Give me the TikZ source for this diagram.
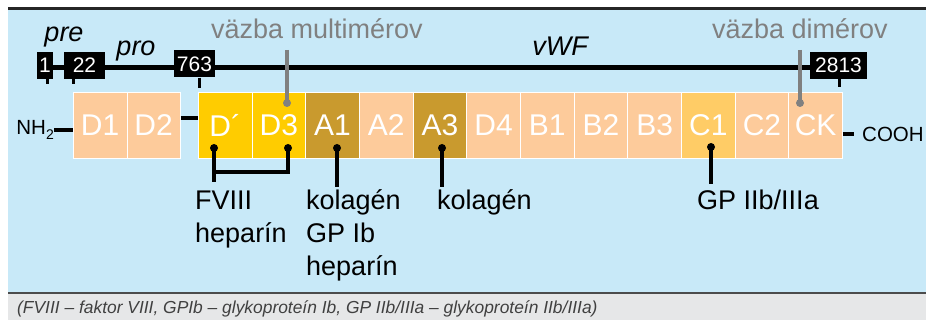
\documentclass[tikz,border=0pt]{standalone}
\usepackage{fontspec}
\setmainfont{Liberation Sans}
\definecolor{bgblue}{HTML}{C8E9F8}
\definecolor{peach}{HTML}{FDCB9B}
\definecolor{goldd}{HTML}{FFCC00}
\definecolor{brownd}{HTML}{C99A2E}
\definecolor{lgold}{HTML}{FFCC66}
\definecolor{capgray}{HTML}{E6E7E8}
\definecolor{lblgray}{HTML}{808080}
\definecolor{captext}{HTML}{404040}
\begin{document}
\begin{tikzpicture}[x=1pt,y=-1pt,
  dombox/.style={draw=white,line width=0.8pt,inner sep=0pt,minimum height=66pt,
    anchor=north west,text=white,font=\fontsize{30}{30}\selectfont},
  numbox/.style={fill=black,text=white,inner sep=0pt,minimum height=27pt,
    font=\fontsize{21}{21}\selectfont},
  tickln/.style={line width=3pt},
  mainln/.style={line width=4.8pt},
  grayln/.style={line width=3.5pt,draw=lblgray},
  blackln/.style={line width=4pt},
  graylbl/.style={text=lblgray,font=\fontsize{27}{27}\selectfont,inner sep=0pt,anchor=base},
  itlbl/.style={font=\fontsize{27}{27}\selectfont\itshape,inner sep=0pt,anchor=base},
  bindlbl/.style={font=\fontsize{27}{33}\selectfont,inner sep=0pt,anchor=base west,align=left},
  endlbl/.style={font=\fontsize{20.5}{20.5}\selectfont,inner sep=0pt}
]
\useasboundingbox (0,0) rectangle (926,320);
% background
\fill[bgblue] (8,8) rectangle (926,293);
\fill[capgray] (8,293) rectangle (926,320);
\draw[line width=2.5pt,draw=black!85] (8,8.5) -- (926,8.5);
\draw[line width=1.2pt,draw=black!70] (8,293) -- (926,293);

% main chain line
\coordinate (lstart) at (38,67.5);
\coordinate (lend) at (845,67.5);
\draw[mainln] (lstart) -- (lend);

% number boxes
\node[numbox,minimum width=16pt] (n1) at (45,65.5) {1};
\node[numbox,minimum width=41pt] (n22) at (84.5,65.5) {22};
\node[numbox,minimum width=41pt] (n763) at (194.5,64) {763};
\node[numbox,minimum width=57pt] (n2813) at (838.5,65.5) {2813};
\draw[tickln] ([xshift=2pt]n1.south) -- ++(0,5);
\draw[tickln] ([xshift=10pt]n22.south west) -- ++(0,5);
\draw[tickln] ([xshift=4.5pt]n763.south) -- ++(0,10);
\draw[tickln] ([xshift=0.5pt]n2813.south) -- ++(0,8);

% labels above
\node[itlbl] (pre) at (64,42) {pre};
\node[itlbl] (pro) at (136,56) {pro};
\node[itlbl] (vwf) at (560,56) {vWF};
\node[graylbl] (multi) at (317,39) {väzba multimérov};
\node[graylbl] (dimer) at (800,39) {väzba dimérov};

% domains
\node[dombox,fill=peach,minimum width=53.5pt] (d1) at (73,92) {D1};
\node[dombox,fill=peach,minimum width=53.5pt] (d2) at (126.5,92) {D2};
\foreach \nm/\lab/\col [count=\i from 0] in
  {dp/D´/goldd, d3/D3/goldd, a1/A1/brownd, a2/A2/peach, a3/A3/brownd, d4/D4/peach,
   b1/B1/peach, b2/B2/peach, b3/B3/peach, c1/C1/lgold, c2/C2/peach, ck/CK/peach}
  \node[dombox,fill=\col,minimum width=53.67pt] (\nm) at ({198+53.67*\i},92) {\lab};

% termini
\node[endlbl,anchor=east] (nh2) at (54,130) {NH\raisebox{-0.4ex}{\fontsize{14}{14}\selectfont 2}};
\draw[blackln] (nh2.east) -- (d1.west |- nh2.east);
\draw[blackln] ([yshift=7pt]d2.east) -- ([yshift=7pt]dp.west);
\node[endlbl,anchor=west] (cooh) at (862,134) {COOH};
\draw[blackln] (ck.east |- cooh.west) -- ++(11,0);

% gray binding lines
\coordinate (gm) at (287,103);
\coordinate (gd) at (800,103);
\draw[grayln] (gm |- 0,50) -- (gm);
\fill[lblgray] (gm) circle (4pt);
\draw[grayln] (gd |- 0,50) -- (gd);
\fill[lblgray] (gd) circle (4pt);

% black binding lines
\coordinate (pdp) at (214,148);
\coordinate (pd3) at (288,148);
\coordinate (pa1) at (337,148);
\coordinate (pa3) at (442,148);
\coordinate (pc1) at (711,147);
\draw[blackln] (pd3) -- (288,172) -- (214,172);
\draw[blackln] (pdp) -- (214,182);
\draw[blackln] (pa1) -- (337,187);
\draw[blackln] (pa3) -- (442,187);
\draw[blackln] (pc1) -- (711,184);
\foreach \p in {pdp,pd3,pa1,pa3,pc1} \fill (\p) circle (4pt);

% labels (anchor = baseline of last line)
\node[bindlbl] (l1) at (195,243) {FVIII\\heparín};
\node[bindlbl] (l2) at (306,276) {kolagén\\GP Ib\\heparín};
\node[bindlbl] (l3) at (437,210) {kolagén};
\node[bindlbl] (l4) at (697,210) {GP IIb/IIIa};

% caption
\node[inner sep=0pt,anchor=base west,text=captext,font=\fontsize{17.4}{17.4}\selectfont\itshape] (cap) at (17,313)
  {(FVIII – faktor VIII, GPIb – glykoproteín Ib, GP IIb/IIIa – glykoproteín IIb/IIIa)};
\end{tikzpicture}
\end{document}
